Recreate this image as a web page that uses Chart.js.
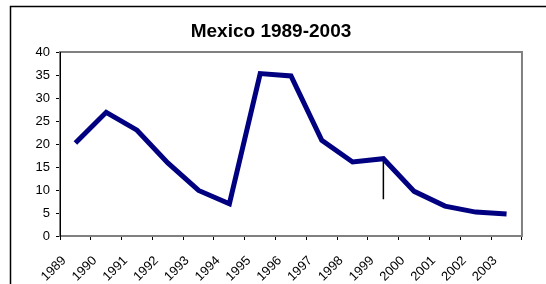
<!DOCTYPE html>
<html>
<head>
<meta charset="utf-8">
<script src="https://cdn.jsdelivr.net/npm/chart.js@4/dist/chart.umd.min.js"></script>
<style>
html,body{margin:0;padding:0;background:#fff;}
#wrap{position:relative;width:546px;height:284px;}
</style>
</head>
<body>
<div id="wrap"><canvas id="c" width="546" height="284"></canvas></div>
<script>
const titleText = 'Mexico 1989-2003';
const years = ['1989','1990','1991','1992','1993','1994','1995','1996','1997','1998','1999','2000','2001','2002','2003'];
const values = [20.2, 26.9, 23.0, 15.9, 9.9, 7.0, 35.3, 34.8, 20.8, 16.1, 16.8, 9.7, 6.5, 5.2, 4.8];
const yTicks = [0, 5, 10, 15, 20, 25, 30, 35, 40];
const markerYear = '1999';
const markerValues = [16.8, 8.0];

const mIdx = years.indexOf(markerYear);

const framePlugin = {
  id: 'frame',
  beforeDraw(chart) {
    const ctx = chart.ctx;
    ctx.save();
    ctx.fillStyle = '#fff';
    ctx.fillRect(0, 0, chart.width, chart.height);
    ctx.strokeStyle = '#000';
    ctx.lineWidth = 1.5;
    ctx.strokeRect(10.5, 6.5, 600, 400);
    ctx.fillStyle = '#000';
    ctx.font = 'bold 19px "Liberation Sans", Arial, sans-serif';
    ctx.textAlign = 'center';
    ctx.textBaseline = 'alphabetic';
    ctx.fillText(titleText, 271, 37);
    ctx.restore();
  },
  beforeDatasetsDraw(chart) {
    const a = chart.chartArea, ctx = chart.ctx;
    ctx.save();
    ctx.strokeStyle = '#808080';
    ctx.lineWidth = 2;
    ctx.strokeRect(a.left, a.top, a.right - a.left, a.bottom - a.top);
    ctx.strokeStyle = '#000';
    ctx.lineWidth = 1;
    ctx.beginPath();
    ctx.moveTo(a.left + 0.5, a.top);
    ctx.lineTo(a.left + 0.5, a.bottom + 1);
    ctx.stroke();
    ctx.restore();
  }
};

new Chart(document.getElementById('c'), {
  type: 'line',
  data: {
    datasets: [
      {
        data: years.map((y, i) => ({x: i + 0.5, y: values[i]})),
        borderColor: '#000080',
        borderWidth: 5,
        pointRadius: 0,
        tension: 0,
        borderJoinStyle: 'miter',
        borderCapStyle: 'butt',
        fill: false
      },
      {
        data: markerValues.map(v => ({x: mIdx + 0.5, y: v})),
        borderColor: '#000',
        borderWidth: 1.5,
        pointRadius: 0,
        fill: false
      }
    ]
  },
  options: {
    responsive: false,
    animation: false,
    devicePixelRatio: 1,
    layout: {padding: {left: 0, right: 9, top: 52, bottom: 0}},
    plugins: {legend: {display: false}, title: {display: false}, tooltip: {enabled: false}},
    scales: {
      x: {
        type: 'linear',
        min: 0,
        max: years.length,
        afterFit(s) { s.height = 48; },
        afterBuildTicks(s) { s.ticks = years.map((y, i) => ({value: i})).concat([{value: years.length}]); },
        ticks: {
          stepSize: 1,
          autoSkip: false,
          minRotation: 45,
          maxRotation: 45,
          padding: 13,
          labelOffset: 4,
          color: '#000',
          font: {family: '"Liberation Sans", Arial, sans-serif', size: 13},
          callback: (v) => years[v] !== undefined ? years[v] : ''
        },
        grid: {drawOnChartArea: false, drawTicks: true, tickLength: 4, color: '#000'},
        border: {display: true, color: '#808080', width: 2}
      },
      y: {
        min: 0,
        max: 40,
        afterFit(s) { s.width = 60; },
        afterBuildTicks(s) { s.ticks = yTicks.map(v => ({value: v})); },
        ticks: {
          stepSize: 5,
          padding: 6,
          color: '#000',
          font: {family: '"Liberation Sans", Arial, sans-serif', size: 13}
        },
        grid: {drawOnChartArea: false, drawTicks: true, tickLength: 4, color: '#000'},
        border: {display: true, color: '#000', width: 1}
      }
    }
  },
  plugins: [framePlugin]
});
</script>
</body>
</html>
